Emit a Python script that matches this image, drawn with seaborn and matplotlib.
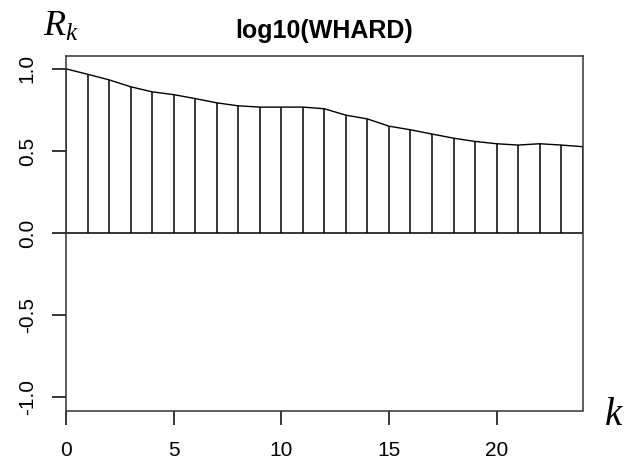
import matplotlib
matplotlib.use("Agg")
import matplotlib.pyplot as plt
import seaborn as sns
import pandas as pd
import numpy as np

lags = list(range(25))
acf_values = [1.0, 0.967, 0.933, 0.891, 0.860, 0.843, 0.819, 0.793, 0.775, 0.767,
              0.767, 0.767, 0.757, 0.718, 0.695, 0.651, 0.629, 0.603, 0.578, 0.558,
              0.544, 0.536, 0.544, 0.536, 0.526]
x_ticks = [0, 5, 10, 15, 20]
y_ticks = [-1.0, -0.5, 0.0, 0.5, 1.0]
y_tick_labels = ["-1.0", "-0.5", "0.0", "0.5", "1.0"]
title = "log10(WHARD)"

sns.set_style("ticks")
plt.rcParams["font.family"] = ["Liberation Sans", "DejaVu Sans"]
plt.rcParams["mathtext.fontset"] = "custom"
plt.rcParams["mathtext.it"] = "Liberation Serif:italic"
plt.rcParams["mathtext.rm"] = "Liberation Serif"
for key in ["text.color", "axes.labelcolor", "xtick.color", "ytick.color",
            "xtick.labelcolor", "ytick.labelcolor"]:
    plt.rcParams[key] = "black"

df = pd.DataFrame({"lag": lags, "acf": acf_values})

fig = plt.figure(figsize=(6.3, 4.7), dpi=100)
ax = fig.add_axes([66 / 630, 1 - 410.5 / 470, (582.7 - 66) / 630, (410.5 - 55.7) / 470])

ax.vlines(df["lag"], 0, df["acf"], color="black", linewidth=1.1)
sns.lineplot(data=df, x="lag", y="acf", ax=ax, color="black", linewidth=1.0)
ax.axhline(0, color="black", linewidth=1.1)

ax.set_xlim(0, 24)
ax.set_ylim(-1.08, 1.08)
ax.set_xticks(x_ticks)
ax.set_xticklabels([str(t) for t in x_ticks], fontsize=15, color="black")
ax.set_yticks(y_ticks)
ax.set_yticklabels(y_tick_labels, fontsize=15, rotation=90, va="center", color="black")
ax.tick_params(axis="x", direction="out", length=10, width=1.1, color="black", pad=12)
ax.tick_params(axis="y", direction="out", length=10, width=1.1, color="black", pad=11)
ax.set_xlabel("")
ax.set_ylabel("")
for s in ax.spines.values():
    s.set_visible(True)
    s.set_color("#333333")
    s.set_linewidth(1.1)

fig.text(324 / 630, 1 - 31 / 470, title, ha="center", va="center",
         fontsize=18, fontweight="bold", color="black")
fig.text(61 / 630, 1 - 26 / 470, r"$R_k$", ha="center", va="center", fontsize=26, color="black")
fig.text(614 / 630, 1 - 415 / 470, r"$k$", ha="center", va="center", fontsize=28, color="black")

fig.savefig("out.png", dpi=100)
